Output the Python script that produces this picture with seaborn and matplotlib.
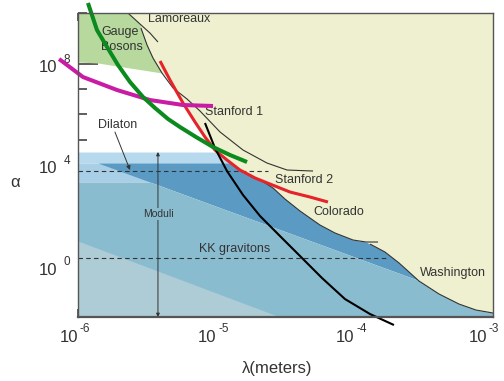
import matplotlib
matplotlib.use("Agg")
import matplotlib.pyplot as plt
import numpy as np
import seaborn as sns
from matplotlib.ticker import NullFormatter, NullLocator

# all curves are log10(lambda / m) and log10(alpha)
lamoreaux_x = [-5.639, -5.552, -5.480, -5.422]
lamoreaux_y = [10.0, 9.566, 9.210, 8.855]

stanford1_x = [-5.545, -5.501, -5.458, -5.393, -5.313, -5.212, -5.118, -4.973, -4.807, -4.634, -4.489, -4.301]
stanford1_y = [9.408, 8.737, 8.223, 7.631, 7.039, 6.605, 6.131, 5.302, 4.591, 4.078, 3.802, 3.762]

red_x = [-5.407, -5.335, -5.241, -5.154, -5.082, -5.010, -4.923, -4.829, -4.720, -4.612, -4.467, -4.323, -4.193]
red_y = [8.105, 7.355, 6.447, 5.697, 5.105, 4.591, 4.197, 3.802, 3.486, 3.249, 2.933, 2.736, 2.539]

colorado_x = [-4.670, -4.590, -4.504, -4.395, -4.251, -4.142, -4.012, -3.918, -3.831]
colorado_y = [3.368, 3.091, 2.657, 2.183, 1.631, 1.315, 1.039, 0.960, 0.960]

washington_x = [-3.889, -3.781, -3.679, -3.535, -3.390, -3.246, -3.123, -3.0]
washington_y = [0.880, 0.565, 0.131, -0.580, -1.093, -1.488, -1.725, -1.843]

green_x = [-5.928, -5.863, -5.790, -5.711, -5.624, -5.530, -5.443, -5.349, -5.263, -5.147, -5.024, -4.901, -4.778]
green_y = [10.395, 9.329, 8.658, 7.947, 7.276, 6.684, 6.250, 5.815, 5.500, 5.105, 4.710, 4.394, 4.118]

magenta_x = [-6.137, -5.964, -5.718, -5.480, -5.241, -5.024]
magenta_y = [8.184, 7.473, 6.960, 6.565, 6.368, 6.329]

black_x = [-5.082, -5.010, -4.923, -4.807, -4.684, -4.540, -4.395, -4.236, -4.070, -3.889, -3.716]
black_y = [5.658, 4.670, 3.762, 2.815, 1.986, 1.196, 0.407, -0.462, -1.291, -1.883, -2.317]

# gauge boson region lower edge
gauge_x = [-6.0, -5.855, -5.624, -5.393]
gauge_y = [8.066, 8.026, 7.829, 7.631]

# blue bands
dilaton_band = [3.328, 4.078, 4.513]
dark_edge_x = [-5.855, -3.0]
dark_edge_y = [4.078, -1.632]
light_edge_x = [-6.0, -4.54]
light_edge_y = [1.0, -2.0]

dilaton_level, dilaton_end = 3.762, -4.626
kk_level, kk_end = 0.328, -3.766
moduli_x = -5.422

x_tick_exps = [-6, -5, -4, -3]
y_tick_exps = [0, 4, 8]
y_minor_exps = list(range(-2, 11))

YELLOW = "#EFF0CF"
GREEN_FILL = "#B8D99E"
LIGHT_BAND = "#B6D9EE"
LIGHT_STRIP = "#A8CFE6"
DARK = "#5B9BC3"
MEDIUM = "#8ABCD0"
LIGHTEST = "#AECCD5"
INK = "#333333"

sns.set_theme(style="white")
plt.rcParams["font.family"] = ["Liberation Sans", "DejaVu Sans"]

fig = plt.figure(figsize=(5.04, 3.81), dpi=100)
ax = fig.add_axes([0.15476, 0.16798, 0.82341, 0.79790])
ax.set_xscale("log")
ax.set_yscale("log")
ax.set_xlim(1e-6, 1e-3)
ax.set_ylim(1e-2, 1e10)
ax.set_facecolor("white")

# exclusion boundary (lower edge of the yellow region)
bound_x = np.array(lamoreaux_x[:2] + stanford1_x[:4] + red_x[1:9] + colorado_x[:-1] + washington_x)
bound_y = np.array(lamoreaux_y[:2] + stanford1_y[:4] + red_y[1:9] + colorado_y[:-1] + washington_y)

xs = np.linspace(-6, -3, 1500)
b = np.interp(xs, bound_x, bound_y, left=10.0)
g = np.interp(xs, gauge_x, gauge_y)
dk = np.interp(xs, dark_edge_x, dark_edge_y)
lt = np.interp(xs, light_edge_x, light_edge_y)
X = 10 ** xs


def band(lo, hi, color):
    ax.fill_between(X, 10 ** lo, 10 ** hi, where=hi > lo, interpolate=True,
                    color=color, lw=0, zorder=1)


ax.fill_between(X, 10 ** g, 1e10, where=xs <= gauge_x[-1], color=GREEN_FILL, lw=0, zorder=1)
ax.fill_between(X, 10 ** b, 1e10, where=xs >= bound_x[0], color=YELLOW, lw=0, zorder=1)

lo_band, mid_band, hi_band = dilaton_band
band(np.full_like(xs, mid_band), np.minimum(hi_band, b), LIGHT_BAND)
band(np.full_like(xs, lo_band), np.minimum(mid_band, b), LIGHT_STRIP)
band(dk, np.minimum(mid_band, b), DARK)
band(np.full_like(xs, -2.0), np.minimum(np.minimum(lo_band, dk), b), MEDIUM)
band(np.full_like(xs, -2.0), np.minimum(np.minimum(lt, dk), b), LIGHTEST)


def curve(cx, cy, **kw):
    sns.lineplot(x=10 ** np.array(cx), y=10 ** np.array(cy), ax=ax, sort=False,
                 estimator=None, solid_joinstyle="round", solid_capstyle="butt", **kw)


# thin experiment curves
for cx, cy in [(lamoreaux_x, lamoreaux_y), (stanford1_x, stanford1_y),
               (colorado_x, colorado_y), (washington_x, washington_y)]:
    curve(cx, cy, color=INK, lw=0.8, zorder=3)

# dashed predictions
ax.plot([1e-6, 10 ** dilaton_end], [10 ** dilaton_level] * 2, color=INK, lw=0.8,
        dashes=(4, 3), zorder=3)
ax.plot([1e-6, 10 ** kk_end], [10 ** kk_level] * 2, color=INK, lw=0.8,
        dashes=(4, 3), zorder=3)

# thick curves
curve(red_x, red_y, color="#E5232B", lw=2.2, zorder=4)
curve(black_x, black_y, color="black", lw=1.5, zorder=4, clip_on=False)
curve(magenta_x, magenta_y, color="#C91CA5", lw=2.9, zorder=5, clip_on=False)
curve(green_x, green_y, color="#0B8A1E", lw=2.9, zorder=5, clip_on=False)

# moduli arrow
ax.annotate("", xy=(10 ** moduli_x, 10 ** hi_band), xytext=(10 ** moduli_x, 1e-2),
            arrowprops=dict(arrowstyle="<|-|>", color=INK, lw=0.7, shrinkA=0, shrinkB=0,
                            mutation_scale=5), zorder=3)
ax.text(10 ** moduli_x, 10 ** 2.065, "Moduli", ha="center", va="center", fontsize=7.5,
        color=INK, zorder=4, bbox=dict(facecolor=MEDIUM, edgecolor="none", pad=0.5))

# dilaton pointer
ax.annotate("", xy=(10 ** -5.624, 10 ** 3.802), xytext=(10 ** -5.733, 10 ** 5.302),
            arrowprops=dict(arrowstyle="-|>", color=INK, lw=0.7, shrinkA=0, shrinkB=0,
                            mutation_scale=6), zorder=4)

labels = [
    ("Lamoreaux", -5.494, 9.763, "left"),
    ("Gauge", -5.696, 9.25, "center"),
    ("Bosons", -5.682, 8.658, "center"),
    ("Stanford 1", -5.082, 6.092, "left"),
    ("Stanford 2", -4.576, 3.407, "left"),
    ("Colorado", -4.301, 2.144, "left"),
    ("Washington", -3.528, -0.264, "left"),
    ("Dilaton", -5.711, 5.579, "center"),
    ("KK gravitons", -5.125, 0.683, "left"),
]
for txt, lx, ly, ha in labels:
    ax.text(10 ** lx, 10 ** ly, txt, ha=ha, va="center", fontsize=9, color=INK, zorder=4)

# ticks
ax.set_xticks([10.0 ** e for e in x_tick_exps])
ax.xaxis.set_minor_locator(NullLocator())
ax.set_xticklabels([])
ax.set_yticks([10.0 ** e for e in y_tick_exps])
ax.set_yticks([10.0 ** e for e in y_minor_exps if e not in y_tick_exps], minor=True)
ax.set_yticklabels([])
ax.yaxis.set_minor_formatter(NullFormatter())
ax.tick_params(axis="x", which="major", direction="in", length=6, width=1.1,
               color=INK, top=True, bottom=True)
ax.tick_params(axis="y", which="major", direction="in", length=14.5, width=1.1,
               color=INK, left=True, right=False)
ax.tick_params(axis="y", which="minor", direction="in", length=6.5, width=1.1,
               color=INK, left=True, right=False)

for e in x_tick_exps:
    shift = -6 if e == x_tick_exps[-1] else 0  # keep the last label inside the canvas
    ax.annotate("10", xy=(10.0 ** e, 0), xycoords=ax.get_xaxis_transform(),
                xytext=(shift, -21), textcoords="offset pixels", ha="right", va="center",
                fontsize=12, color=INK, annotation_clip=False)
    ax.annotate(f"{e}", xy=(10.0 ** e, 0), xycoords=ax.get_xaxis_transform(),
                xytext=(shift + 2, -12), textcoords="offset pixels", ha="left", va="center",
                fontsize=8.5, color=INK, annotation_clip=False)
for e in y_tick_exps:
    ax.annotate("10", xy=(0, 10.0 ** e), xycoords=ax.get_yaxis_transform(),
                xytext=(-21, -4), textcoords="offset pixels", ha="right", va="center",
                fontsize=12, color=INK, annotation_clip=False)
    ax.annotate(f"{e}", xy=(0, 10.0 ** e), xycoords=ax.get_yaxis_transform(),
                xytext=(-14, 4), textcoords="offset pixels", ha="left", va="center",
                fontsize=8.5, color=INK, annotation_clip=False)

ax.set_xlabel("λ(meters)", fontsize=12, color=INK, va="center")
ax.xaxis.set_label_coords(0.48, -0.168)
ax.set_ylabel("α", fontsize=12, color=INK, rotation=0, va="center", ha="center")
ax.yaxis.set_label_coords(-0.152, 0.444)

for side, sp in ax.spines.items():
    sp.set_color("#555555")
    sp.set_linewidth(1.6 if side == "bottom" else 1.0)
    sp.set_zorder(6)

fig.savefig("out.png", dpi=100)
